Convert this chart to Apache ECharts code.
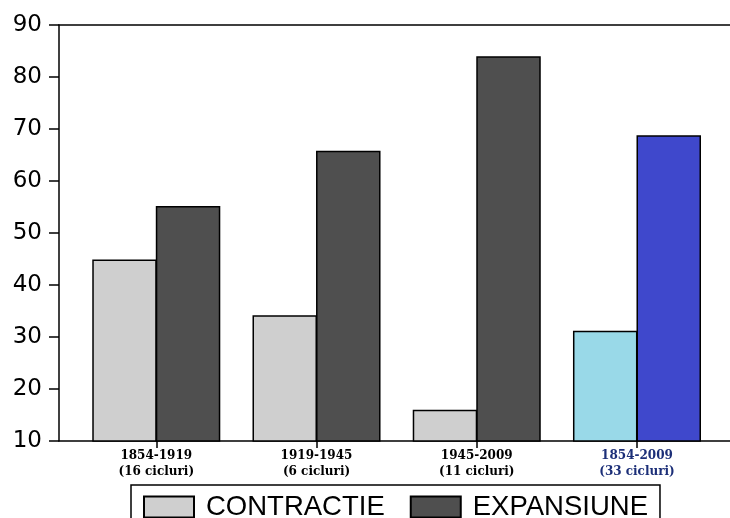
<!DOCTYPE html>
<html>
<head>
<meta charset="utf-8">
<script src="https://cdn.jsdelivr.net/npm/echarts@6/dist/echarts.min.js"></script>
<style>
html,body{margin:0;padding:0;background:#fff;}
#c{width:730px;height:518px;}
</style>
</head>
<body>
<div id="c"></div>
<script>
const periods = ['1854-1919', '1919-1945', '1945-2009', '1854-2009'];
const cycles = ['(16 cicluri)', '(6 cicluri)', '(11 cicluri)', '(33 cicluri)'];
const contractie = [44.9, 34.2, 16.0, 31.2];
const expansiune = [55.2, 65.8, 84.0, 68.8];
const yTicks = [10, 20, 30, 40, 50, 60, 70, 80, 90];

const positions = periods.map((_, i) => i + 1);

const chart = echarts.init(document.getElementById('c'));

function mk(vals, highlightColor) {
  return vals.map((v, i) => {
    const d = { value: [positions[i], v] };
    if (i === vals.length - 1) d.itemStyle = { color: highlightColor };
    return d;
  });
}

const xMin = 0.3929, xMax = 4.5805;

chart.setOption({
  animation: false,
  backgroundColor: '#fff',
  grid: { left: 59, right: -5, top: 25, bottom: 77, show: false },
  xAxis: [{
    type: 'value',
    min: xMin, max: xMax,
    splitLine: { show: false },
    axisLine: { show: true, lineStyle: { color: '#000', width: 1.5 } },
    axisTick: { show: true, customValues: positions, length: 7, lineStyle: { color: '#000', width: 1.5 } },
    axisLabel: {
      customValues: positions,
      margin: 7,
      fontFamily: 'DejaVu Serif',
      fontWeight: 'bold',
      fontSize: 12,
      lineHeight: 16,
      color: '#000',
      formatter: function (v) {
        const i = Math.round(v) - 1;
        const t = periods[i] + '\n' + cycles[i];
        return i === periods.length - 1 ? '{b|' + periods[i] + '}\n{b|' + cycles[i] + '}' : t;
      },
      rich: {
        b: { color: '#1c2f78', fontFamily: 'DejaVu Serif', fontWeight: 'bold', fontSize: 12, lineHeight: 16 }
      }
    }
  }, {
    type: 'value',
    position: 'top',
    min: xMin, max: xMax,
    splitLine: { show: false },
    axisLine: { show: true, onZero: false, lineStyle: { color: '#000', width: 1.5 } },
    axisTick: { show: false },
    axisLabel: { show: false }
  }],
  yAxis: {
    type: 'value',
    min: yTicks[0], max: yTicks[yTicks.length - 1], interval: 10,
    splitLine: { show: false },
    axisLine: { show: true, lineStyle: { color: '#000', width: 1.5 } },
    axisTick: { show: true, length: 10, lineStyle: { color: '#000', width: 1.5 } },
    axisLabel: { fontFamily: 'DejaVu Sans', fontSize: 23, color: '#000', margin: 17 }
  },
  legend: {
    left: 131, top: 485,
    orient: 'horizontal',
    padding: [8, 12, 14, 12],
    borderColor: '#000', borderWidth: 1.5,
    itemWidth: 50, itemHeight: 21, itemGap: 25,
    icon: 'rect',
    textStyle: { fontFamily: 'Liberation Sans', fontSize: 27.5, color: '#000', padding: [0, 0, 0, 7] },
    data: ['CONTRACTIE', 'EXPANSIUNE']
  },
  series: [
    {
      name: 'CONTRACTIE', type: 'bar',
      data: mk(contractie, '#99d9e8'),
      barWidth: 64.5, barGap: '-1.5%',
      itemStyle: { color: '#cfcfcf', borderColor: '#000', borderWidth: 1.5 }
    },
    {
      name: 'EXPANSIUNE', type: 'bar',
      data: mk(expansiune, '#3f48cc'),
      barWidth: 64.5, barGap: '-1.5%',
      itemStyle: { color: '#4f4f4f', borderColor: '#000', borderWidth: 1.5 }
    }
  ]
});
</script>
</body>
</html>
